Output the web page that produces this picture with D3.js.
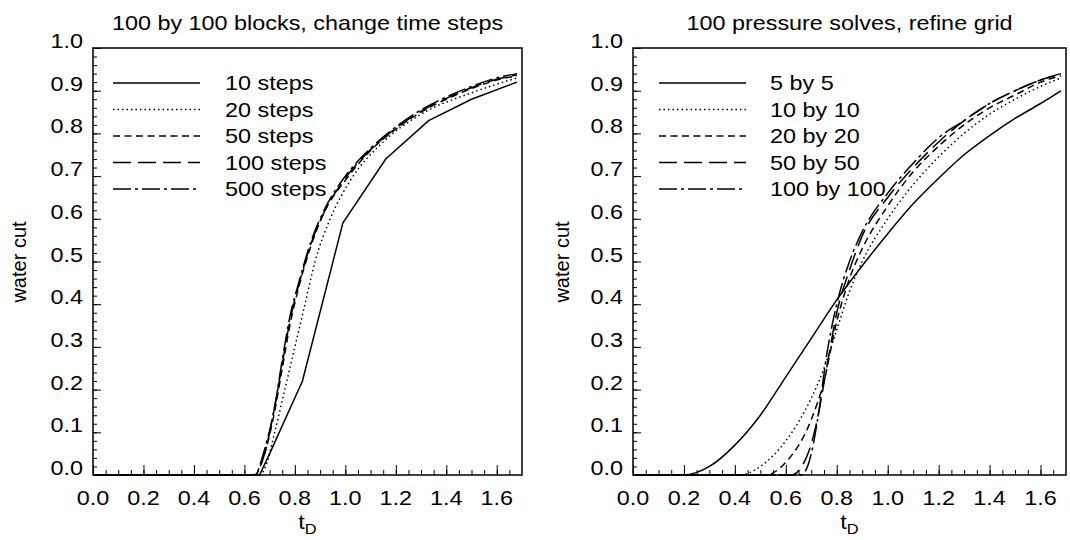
<!DOCTYPE html>
<html>
<head>
<meta charset="utf-8">
<script src="https://cdn.jsdelivr.net/npm/d3@7"></script>
<style>
  body { margin: 0; background: #fff; }
  svg { display: block; }
  text { font-family: "Liberation Sans", Arial, sans-serif; fill: #000; }
</style>
</head>
<body>
<svg id="chart" width="1070" height="540"></svg>
<script>
// ---- data: [tD, water cut] ----
var leftTitle = "100 by 100 blocks, change time steps";
var rightTitle = "100 pressure solves, refine grid";
var leftNames = ["10 steps", "20 steps", "50 steps", "100 steps", "500 steps"];
var rightNames = ["5 by 5", "10 by 10", "20 by 20", "50 by 50", "100 by 100"];
var yTickLabels = ["0.0","0.1","0.2","0.3","0.4","0.5","0.6","0.7","0.8","0.9","1.0"];
var xTickLabels = ["0.0","0.2","0.4","0.6","0.8","1.0","1.2","1.4","1.6"];

var steps10 = [[0,0],[0.66,0],[0.70,0.05],[0.83,0.22],[0.99,0.59],[1.16,0.74],[1.33,0.83],[1.50,0.88],[1.68,0.92]];
var steps20 = [[0,0],[0.66,0],[0.69,0.03],[0.72,0.10],[0.76,0.20],[0.80,0.30],[0.84,0.40],[0.88,0.50],[0.94,0.60],[1.02,0.69],[1.15,0.78],[1.30,0.845],[1.50,0.895],[1.68,0.93]];
var steps50 = [[0,0],[0.64,0],[0.68,0.05],[0.72,0.15],[0.75,0.25],[0.78,0.35],[0.82,0.45],[0.86,0.53],[0.92,0.62],[1.00,0.69],[1.10,0.76],[1.20,0.81],[1.30,0.85],[1.40,0.88],[1.50,0.905],[1.60,0.925],[1.68,0.935]];
var steps100 = [[0,0],[0.64,0],[0.68,0.05],[0.72,0.16],[0.75,0.26],[0.78,0.36],[0.82,0.455],[0.86,0.535],[0.92,0.62],[1.00,0.695],[1.10,0.762],[1.20,0.812],[1.30,0.852],[1.40,0.882],[1.50,0.907],[1.60,0.927],[1.68,0.937]];
var steps500 = [[0,0],[0.64,0],[0.68,0.06],[0.72,0.16],[0.75,0.27],[0.78,0.37],[0.82,0.46],[0.86,0.54],[0.92,0.625],[1.00,0.70],[1.10,0.765],[1.20,0.815],[1.30,0.855],[1.40,0.885],[1.50,0.91],[1.60,0.93],[1.68,0.94]];

var grid5 = [[0,0],[0.20,0],[0.30,0.02],[0.40,0.07],[0.50,0.14],[0.60,0.23],[0.70,0.32],[0.80,0.41],[0.90,0.49],[1.00,0.565],[1.10,0.635],[1.20,0.695],[1.30,0.75],[1.40,0.795],[1.50,0.835],[1.60,0.87],[1.68,0.90]];
var grid10 = [[0,0],[0.42,0],[0.50,0.02],[0.60,0.08],[0.70,0.18],[0.75,0.25],[0.80,0.34],[0.85,0.43],[0.90,0.50],[1.00,0.60],[1.10,0.68],[1.20,0.745],[1.30,0.80],[1.40,0.845],[1.50,0.88],[1.60,0.91],[1.68,0.93]];
var grid20 = [[0,0],[0.52,0],[0.60,0.03],[0.70,0.13],[0.75,0.22],[0.80,0.36],[0.85,0.46],[0.90,0.53],[1.00,0.63],[1.10,0.71],[1.20,0.77],[1.30,0.82],[1.40,0.86],[1.50,0.89],[1.60,0.92],[1.68,0.935]];
var grid50 = [[0,0],[0.62,0],[0.68,0.04],[0.72,0.12],[0.76,0.25],[0.80,0.38],[0.85,0.48],[0.90,0.56],[1.00,0.65],[1.10,0.72],[1.20,0.78],[1.30,0.83],[1.40,0.87],[1.50,0.90],[1.60,0.925],[1.68,0.94]];
var grid100 = [[0,0],[0.66,0],[0.70,0.05],[0.73,0.15],[0.76,0.28],[0.80,0.40],[0.85,0.50],[0.90,0.57],[1.00,0.66],[1.10,0.73],[1.20,0.79],[1.30,0.83],[1.40,0.87],[1.50,0.90],[1.60,0.925],[1.68,0.94]];

var dashes = ["none", "1.5,3", "7,4.5", "18,7", "18,4,3,4"];

var SX = 1.17; // picture is stretched sideways
var svg = d3.select("#chart");

function stext(g, x, y, str, anchor) {
  return g.append("text")
    .attr("transform", "translate(" + x + "," + y + ") scale(" + SX + ",1)")
    .attr("text-anchor", anchor)
    .attr("font-size", 20)
    .text(str);
}

function drawPanel(opt) {
  var x = d3.scaleLinear().domain([0, 1.7]).range([opt.left, opt.right]);
  var y = d3.scaleLinear().domain([0, 1]).range([475, 48]);
  var g = svg.append("g");
  var cx = (opt.left + opt.right) / 2;

  stext(g, cx, 30, opt.title, "middle");

  // ticks, inward
  var minorX = d3.range(0, 34).map(function(i){ return i * 0.05; });
  var majorX = d3.range(0, 9).map(function(i){ return i * 0.2; });
  var minorY = d3.range(0, 51).map(function(i){ return i * 0.02; });
  var majorY = d3.range(0, 11).map(function(i){ return i * 0.1; });

  g.append("g").attr("transform", "translate(0,475)")
    .call(d3.axisBottom(x).tickValues(minorX).tickSize(-5).tickFormat(""));
  g.append("g").attr("transform", "translate(0,475)")
    .call(d3.axisBottom(x).tickValues(majorX).tickSize(-10).tickFormat(""));
  g.append("g").attr("transform", "translate(" + opt.left + ",0)")
    .call(d3.axisLeft(y).tickValues(minorY).tickSize(-4).tickFormat(""));
  g.append("g").attr("transform", "translate(" + opt.left + ",0)")
    .call(d3.axisLeft(y).tickValues(majorY).tickSize(-8).tickFormat(""));
  g.selectAll(".domain").remove();
  g.selectAll(".tick line").attr("stroke", "#000").attr("stroke-width", 1);

  yTickLabels.forEach(function(t, i) {
    stext(g, opt.left - 10, y(majorY[i]), t, "end");
  });
  xTickLabels.forEach(function(t, i) {
    stext(g, x(majorX[i]), 505, t, "middle");
  });

  var xl = g.append("text")
    .attr("transform", "translate(" + cx + ",529) scale(" + SX + ",1)")
    .attr("text-anchor", "middle").attr("font-size", 20);
  xl.append("tspan").text("t");
  xl.append("tspan").attr("dy", 5).attr("font-size", 14).text("D");

  g.append("text")
    .attr("transform", "translate(" + opt.ylabX + ",262) rotate(-90)")
    .attr("text-anchor", "middle").attr("font-size", 20)
    .text("water cut");

  // frame
  g.append("rect")
    .attr("x", opt.left).attr("y", 48)
    .attr("width", opt.right - opt.left).attr("height", 427)
    .attr("fill", "none").attr("stroke", "#000").attr("stroke-width", 1.5);

  opt.series.forEach(function(s, i) {
    var line = d3.line()
      .x(function(d){ return x(d[0]); })
      .y(function(d){ return y(d[1]); })
      .curve(opt.curves[i]);
    g.append("path").datum(s)
      .attr("d", line)
      .attr("fill", "none").attr("stroke", "#000")
      .attr("stroke-width", 1.5)
      .attr("stroke-dasharray", dashes[i]);

    var ly = 83 + i * 26.5;
    g.append("line")
      .attr("x1", opt.legX1).attr("x2", opt.legX2)
      .attr("y1", ly).attr("y2", ly)
      .attr("stroke", "#000").attr("stroke-width", 1.5)
      .attr("stroke-dasharray", dashes[i]);
    stext(g, opt.legText, ly + 7, opt.names[i], "start");
  });
}

var mono = d3.curveMonotoneX;
drawPanel({
  left: 93, right: 522, title: leftTitle, ylabX: 26,
  names: leftNames, series: [steps10, steps20, steps50, steps100, steps500],
  curves: [d3.curveLinear, mono, mono, mono, mono],
  legX1: 113, legX2: 200, legText: 225
});
drawPanel({
  left: 633, right: 1066, title: rightTitle, ylabX: 569,
  names: rightNames, series: [grid5, grid10, grid20, grid50, grid100],
  curves: [mono, mono, mono, mono, mono],
  legX1: 659, legX2: 746, legText: 770
});
</script>
</body>
</html>
